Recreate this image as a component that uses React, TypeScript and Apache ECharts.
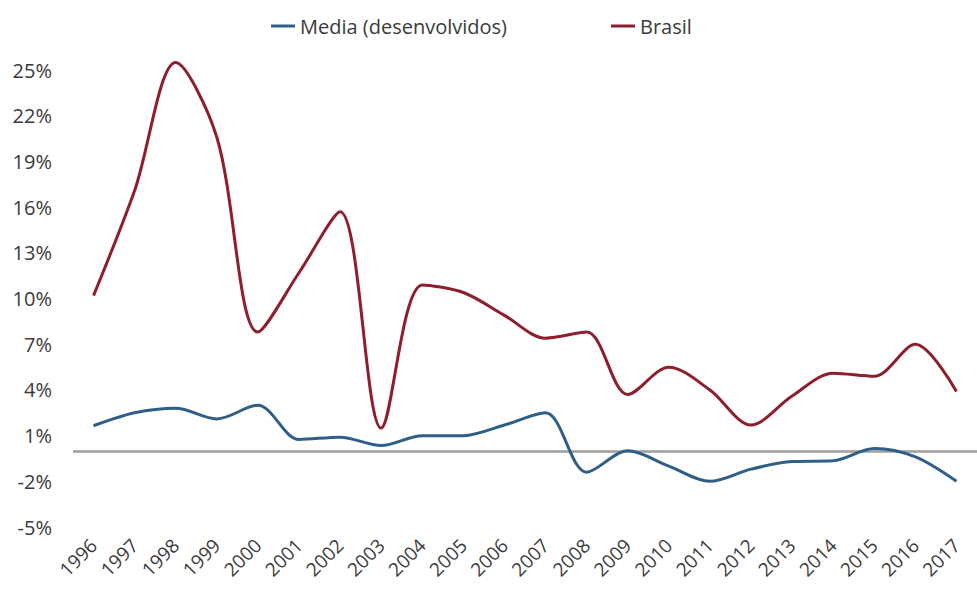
import React, { useEffect, useRef } from "react";
import * as echarts from "echarts";

const years = [
  "1996", "1997", "1998", "1999", "2000", "2001", "2002", "2003", "2004", "2005", "2006",
  "2007", "2008", "2009", "2010", "2011", "2012", "2013", "2014", "2015", "2016", "2017",
];
const media = [1.65, 2.5, 2.8, 2.1, 3.0, 0.75, 0.9, 0.35, 1.0, 1.0, 1.7, 2.5, -1.4, 0.0, -1.0, -2.0, -1.2, -0.7, -0.65, 0.15, -0.4, -2.0];
const brasil = [10.2, 17.1, 25.5, 20.6, 7.8, 11.7, 15.7, 1.5, 10.9, 10.4, 8.9, 7.4, 7.8, 3.7, 5.5, 4.0, 1.7, 3.6, 5.1, 4.9, 7.0, 3.9];
const yTicks = [-5, -2, 1, 4, 7, 10, 13, 16, 19, 22, 25];

const FONT = "'Open Sans', 'DejaVu Sans', sans-serif";
const TEXT = "#3a3a3a";

export default function App() {
  const ref = useRef<HTMLDivElement>(null);
  useEffect(() => {
    if (!ref.current) return;
    const chart = echarts.init(ref.current, null, { renderer: "svg" });
    chart.setOption({
      animation: false,
      backgroundColor: "#ffffff",
      textStyle: { fontFamily: FONT },
      legend: {
        top: 11,
        left: 266,
        icon: "rect",
        itemWidth: 24,
        itemHeight: 3,
        itemGap: 104,
        textStyle: { fontSize: 20, color: TEXT, fontFamily: FONT },
        data: ["Media (desenvolvidos)", "Brasil"],
      },
      grid: { left: 73, right: -14, top: 55, bottom: 65 },
      xAxis: {
        type: "category",
        data: years,
        boundaryGap: true,
        axisLine: { show: false },
        axisTick: { show: false },
        splitLine: { show: false },
        axisLabel: {
          rotate: 45,
          interval: 0,
          margin: 15,
          fontSize: 19,
          color: TEXT,
          fontFamily: FONT,
        },
      },
      yAxis: {
        type: "value",
        min: -5,
        max: 26,
        axisLine: { show: false },
        axisTick: { show: false },
        splitLine: { show: false },
        axisLabel: {
          customValues: yTicks,
          formatter: "{value}%",
          margin: 21,
          fontSize: 20,
          color: TEXT,
          fontFamily: FONT,
        },
      },
      series: [
        {
          name: "Media (desenvolvidos)",
          type: "line",
          data: media,
          smooth: 0.32,
          showSymbol: false,
          symbol: "none",
          color: "#2F5F86",
          lineStyle: { width: 3, color: "#2F5F86" },
          markLine: {
            silent: true,
            symbol: ["none", "none"],
            label: { show: false },
            lineStyle: { color: "#9e9e9e", width: 2.5, type: "solid" },
            data: [{ yAxis: 0 }],
            z: 1,
          },
        },
        {
          name: "Brasil",
          type: "line",
          data: brasil,
          smooth: 0.32,
          showSymbol: false,
          symbol: "none",
          color: "#8E1E2E",
          lineStyle: { width: 3, color: "#8E1E2E" },
        },
      ],
    });
    return () => chart.dispose();
  }, []);
  return (
    <div
      ref={ref}
      style={{ position: "fixed", left: 0, top: 0, width: 977, height: 592 }}
    />
  );
}
